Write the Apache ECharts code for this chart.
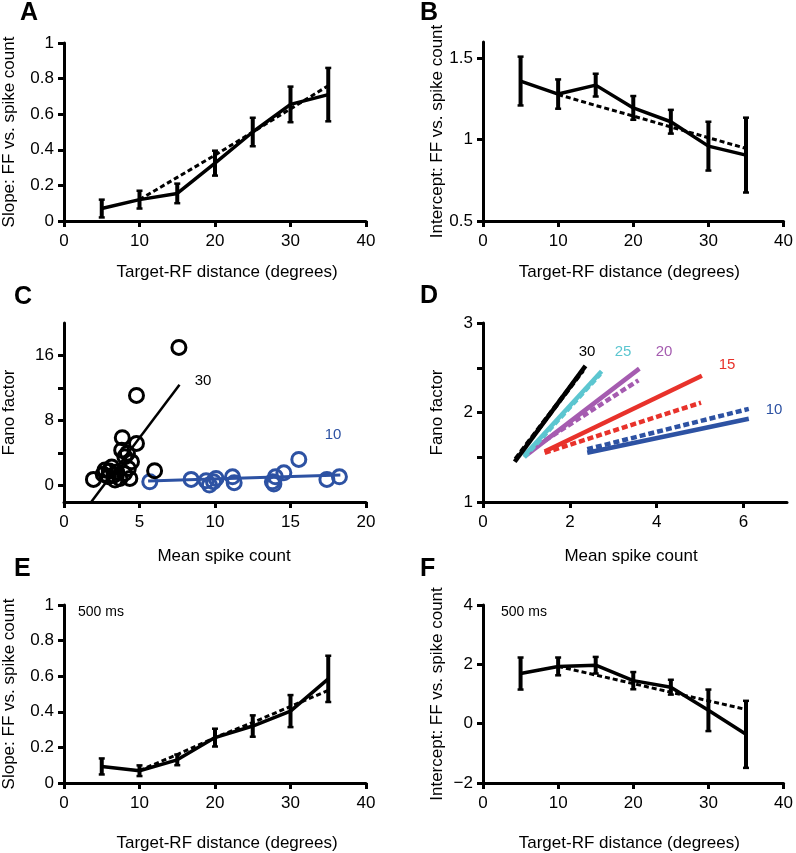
<!DOCTYPE html>
<html>
<head>
<meta charset="utf-8">
<script src="https://cdn.jsdelivr.net/npm/echarts@6/dist/echarts.min.js"></script>
<style>
html,body{margin:0;padding:0;background:#fff;}
#chart{width:796px;height:853px;}
</style>
</head>
<body>
<div id="chart"></div>
<script>
// ---------- data ----------
const distances = [5, 10, 15, 20, 25, 30, 35];
const fitDistances = [10, 15, 20, 25, 30, 35];

// Panel A
const slopeMean = [0.07, 0.12, 0.155, 0.325, 0.50, 0.655, 0.71];
const slopeErr = [0.05, 0.05, 0.055, 0.07, 0.08, 0.10, 0.15];
const slopeFit = [0.12, 0.245, 0.37, 0.50, 0.63, 0.76];

// Panel B
const interceptMean = [1.36, 1.28, 1.335, 1.195, 1.11, 0.96, 0.905];
const interceptErr = [0.15, 0.09, 0.07, 0.073, 0.073, 0.15, 0.23];
const interceptFit = [1.277, 1.21, 1.145, 1.078, 1.012, 0.946];

// Panel C
const scatter30 = [[7.61,17.0],[4.8,11.1],[3.86,5.9],[4.8,5.2],[6.0,1.84],[1.95,0.78],[4.36,0.9],[3.82,4.37],[4.03,3.55],[3.16,2.3],[2.72,1.92],[3.49,1.7],[2.94,1.1],[3.7,0.9],[4.26,2.13],[4.47,2.94],[3.38,0.7],[4.2,4.0],[3.0,1.8],[3.3,1.3],[4.0,1.5],[2.6,1.4]];
const scatter10 = [[5.68,0.49],[8.42,0.78],[9.41,0.61],[9.63,0.08],[10.07,0.9],[11.16,1.1],[11.27,0.37],[13.8,0.49],[14.0,1.1],[14.56,1.59],[15.55,3.23],[17.41,0.78],[18.24,1.1],[9.9,0.5],[13.9,0.2]];
const fitLine30 = [[1.8,-2],[7.65,12.4]];
const fitLine10 = [[5.57,0.58],[18.3,1.31]];

// Panel D: regression lines per distance (solid, dashed)
const dLabels = ['30','25','20','15','10'];
const dSolid = [
  [[0.73,1.45],[2.36,2.52]],
  [[0.95,1.52],[2.73,2.46]],
  [[0.96,1.51],[3.60,2.49]],
  [[1.42,1.565],[5.04,2.41]],
  [[2.40,1.55],[6.12,1.93]]
];
const dDashed = [
  [[0.75,1.48],[2.30,2.47]],
  [[0.95,1.50],[2.70,2.43]],
  [[1.08,1.58],[3.58,2.36]],
  [[1.42,1.55],[5.02,2.11]],
  [[2.40,1.59],[6.12,2.04]]
];

// Panel E
const slope500Mean = [0.093, 0.069, 0.13, 0.255, 0.32, 0.404, 0.585];
const slope500Err = [0.045, 0.03, 0.03, 0.05, 0.06, 0.09, 0.13];
const slope500Fit = [0.07, 0.16, 0.255, 0.34, 0.43, 0.52];

// Panel F
const intercept500Mean = [1.69, 1.93, 1.97, 1.45, 1.23, 0.45, -0.36];
const intercept500Err = [0.54, 0.30, 0.28, 0.29, 0.25, 0.70, 1.13];
const intercept500Fit = [1.93, 1.64, 1.35, 1.06, 0.77, 0.48];

// ---------- styling ----------
const FONT = '"Liberation Sans", Arial, Helvetica, sans-serif';
const cBlue = '#2d52a3', cCyan = '#5cc6d0', cPurple = '#a55cb0', cRed = '#e8322b';
const dColors = ['#000000', cCyan, cPurple, cRed, cBlue];

const grids = [
  {left: 62, top: 43, width: 304, height: 178},
  {left: 483, top: 42, width: 304, height: 179},
  {left: 62, top: 323, width: 304, height: 179},
  {left: 483, top: 323, width: 304, height: 179},
  {left: 62, top: 605, width: 304, height: 179},
  {left: 483, top: 605, width: 304, height: 179}
];

const tickStyle = {show: true, length: 6, inside: false, lineStyle: {color: '#000', width: 3}};
const labelStyle = {color: '#000', fontSize: 17, fontFamily: FONT};

function xAxis(gi, min, max, opts) {
  const ax = {
    type: 'value', gridIndex: gi, min: min, max: max,
    axisLine: {show: true, onZero: false, lineStyle: {color: '#000', width: 3}},
    axisTick: Object.assign({}, tickStyle),
    splitLine: {show: false},
    axisLabel: Object.assign({margin: 12}, labelStyle),
    name: opts.name, nameLocation: 'middle', nameGap: opts.gap,
    nameTextStyle: {color: '#000', fontSize: 17, fontFamily: FONT, padding: opts.pad || [0,0,0,0]}
  };
  if (opts.interval) ax.interval = opts.interval;
  if (opts.ticks) { ax.axisTick.customValues = opts.ticks; ax.axisLabel.customValues = opts.labels || opts.ticks; }
  return ax;
}
function yAxis(gi, min, max, opts) {
  const ax = {
    type: 'value', gridIndex: gi, min: min, max: max,
    axisLine: {show: true, onZero: false, lineStyle: {color: '#000', width: 3}},
    axisTick: Object.assign({}, tickStyle),
    splitLine: {show: false},
    axisLabel: Object.assign({margin: 10}, labelStyle),
    name: opts.name, nameLocation: 'middle', nameGap: opts.gap, nameRotate: 90,
    nameTextStyle: {color: '#000', fontSize: 17, fontFamily: FONT}
  };
  if (opts.interval) ax.interval = opts.interval;
  if (opts.ticks) { ax.axisTick.customValues = opts.ticks; ax.axisLabel.customValues = opts.labels || opts.ticks; }
  if (opts.formatter) ax.axisLabel.formatter = opts.formatter;
  return ax;
}

const distName = 'Target-RF distance (degrees)';
const xAxes = [
  xAxis(0, 0, 40, {interval: 10, name: distName, gap: 43, pad: [0,0,0,24]}),
  xAxis(1, 0, 40, {interval: 10, name: distName, gap: 43, pad: [0,8,0,0]}),
  xAxis(2, 0, 20, {interval: 5, name: 'Mean spike count', gap: 46, pad: [0,0,0,18]}),
  xAxis(3, 0, 7, {ticks: [0,2,4,6], name: 'Mean spike count', gap: 46, pad: [0,8,0,0]}),
  xAxis(4, 0, 40, {interval: 10, name: distName, gap: 52, pad: [0,0,0,24]}),
  xAxis(5, 0, 40, {interval: 10, name: distName, gap: 52, pad: [0,8,0,0]})
];
const yAxes = [
  yAxis(0, 0, 1, {interval: 0.2, name: 'Slope: FF vs. spike count', gap: 46}),
  yAxis(1, 0.5, 1.6, {ticks: [0.5,1,1.5], name: 'Intercept: FF vs. spike count', gap: 37}),
  yAxis(2, -2, 20, {ticks: [0,4,8,12,16], labels: [0,8,16], name: 'Fano factor', gap: 46}),
  yAxis(3, 1, 3, {ticks: [1,1.5,2,2.5,3], labels: [1,2,3], name: 'Fano factor', gap: 37}),
  yAxis(4, 0, 1, {interval: 0.2, name: 'Slope: FF vs. spike count', gap: 46}),
  yAxis(5, -2, 4, {interval: 2, name: 'Intercept: FF vs. spike count', gap: 37,
    formatter: v => String(v).replace('-', '\u2212')})
];

function zip(xs, ys) { return xs.map((x, i) => [x, ys[i]]); }

function errorPanel(gi, mean, err, fit) {
  const errData = distances.map((x, i) => [x, mean[i] - err[i], mean[i] + err[i]]);
  return [
    {
      type: 'custom', xAxisIndex: gi, yAxisIndex: gi, data: errData, silent: true,
      renderItem: function (params, api) {
        const x = api.value(0);
        const p1 = api.coord([x, api.value(1)]);
        const p2 = api.coord([x, api.value(2)]);
        const st = {stroke: '#000', lineWidth: 4};
        return {type: 'group', children: [
          {type: 'line', shape: {x1: p1[0], y1: p1[1], x2: p2[0], y2: p2[1]}, style: st},
          {type: 'line', shape: {x1: p1[0]-3, y1: p1[1], x2: p1[0]+3, y2: p1[1]}, style: {stroke:'#000', lineWidth: 2.5}},
          {type: 'line', shape: {x1: p2[0]-3, y1: p2[1], x2: p2[0]+3, y2: p2[1]}, style: {stroke:'#000', lineWidth: 2.5}}
        ]};
      }
    },
    {
      type: 'line', xAxisIndex: gi, yAxisIndex: gi, data: zip(fitDistances, fit),
      symbol: 'none', lineStyle: {color: '#000', width: 3, type: [5, 3]}, z: 3
    },
    {
      type: 'line', xAxisIndex: gi, yAxisIndex: gi, data: zip(distances, mean),
      symbol: 'none', lineStyle: {color: '#000', width: 3.5}, z: 4
    }
  ];
}

const series = [];
series.push(...errorPanel(0, slopeMean, slopeErr, slopeFit));
series.push(...errorPanel(1, interceptMean, interceptErr, interceptFit));
series.push(...errorPanel(4, slope500Mean, slope500Err, slope500Fit));
series.push(...errorPanel(5, intercept500Mean, intercept500Err, intercept500Fit));

// Panel C
series.push({type: 'line', xAxisIndex: 2, yAxisIndex: 2, data: fitLine30, symbol: 'none',
  lineStyle: {color: '#000', width: 2.5}, z: 3});
series.push({type: 'line', xAxisIndex: 2, yAxisIndex: 2, data: fitLine10, symbol: 'none',
  lineStyle: {color: cBlue, width: 3}, z: 3});
series.push({type: 'scatter', xAxisIndex: 2, yAxisIndex: 2, data: scatter10, symbol: 'circle',
  symbolSize: 14, itemStyle: {color: 'rgba(0,0,0,0)', borderColor: cBlue, borderWidth: 3, opacity: 1}, z: 4});
series.push({type: 'scatter', xAxisIndex: 2, yAxisIndex: 2, data: scatter30, symbol: 'circle',
  symbolSize: 14, itemStyle: {color: 'rgba(0,0,0,0)', borderColor: '#000', borderWidth: 3, opacity: 1}, z: 5});

// Panel D (draw from 10 up to 30 so black is on top)
for (let i = dLabels.length - 1; i >= 0; i--) {
  series.push({type: 'line', xAxisIndex: 3, yAxisIndex: 3, data: dDashed[i], symbol: 'none',
    lineStyle: {color: dColors[i], width: 4.5, type: [6, 3]}, z: 3});
  series.push({type: 'line', xAxisIndex: 3, yAxisIndex: 3, data: dSolid[i], symbol: 'none',
    lineStyle: {color: dColors[i], width: 4.5}, z: 3});
}

// ---------- annotations ----------
function letter(t, x, y) {
  return {type: 'text', left: x, top: y, style: {text: t, font: 'bold 25px ' + FONT, fill: '#000'}};
}
function note(t, x, y, color) {
  return {type: 'text', x: x, y: y, style: {text: t, font: '15px ' + FONT, fill: color, textAlign: 'center', textVerticalAlign: 'middle'}};
}
const graphics = [
  letter('A', 20, 1), letter('B', 420, 1),
  letter('C', 14, 285), letter('D', 420, 284),
  letter('E', 14, 557), letter('F', 420, 557),
  note('30', 203, 381, '#000'), note('10', 333, 435, cBlue),
  note('30', 587, 352, '#000'), note('25', 623, 352, cCyan), note('20', 664, 352, cPurple),
  note('15', 727, 365, cRed), note('10', 774, 410, cBlue),
  {type: 'text', x: 78, y: 612, style: {text: '500 ms', font: '14px ' + FONT, fill: '#000', textVerticalAlign: 'middle'}},
  {type: 'text', x: 501, y: 612, style: {text: '500 ms', font: '14px ' + FONT, fill: '#000', textVerticalAlign: 'middle'}}
];

const chart = echarts.init(document.getElementById('chart'), null, {renderer: 'canvas'});
chart.setOption({
  animation: false,
  backgroundColor: '#fff',
  grid: grids,
  xAxis: xAxes,
  yAxis: yAxes,
  series: series,
  graphic: graphics
});
</script>
</body>
</html>
